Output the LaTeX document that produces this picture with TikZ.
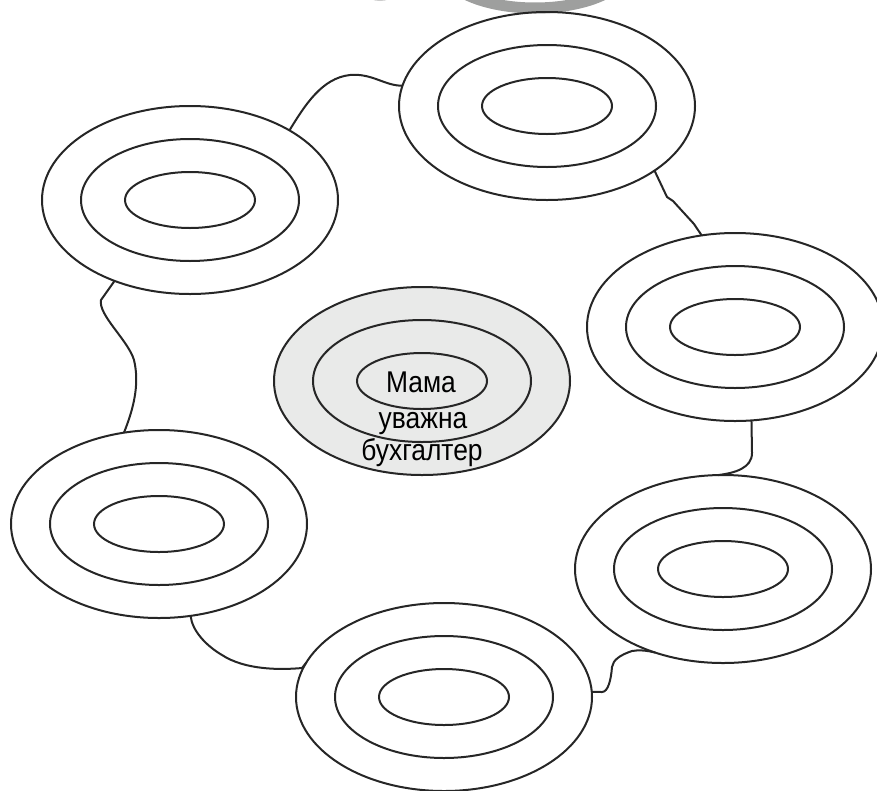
\documentclass[tikz,border=0pt]{standalone}
\usepackage{fontspec}
\usepackage{tikz}
\usetikzlibrary{shapes.geometric}
\newfontfamily\narrowfont[FakeStretch=0.88]{Liberation Sans}
\definecolor{ink}{HTML}{262626}
\definecolor{shade}{HTML}{E9EAE9}
\definecolor{topgray}{HTML}{9E9F9E}
\tikzset{
  ringbase/.style={ellipse, draw=ink, line width=2pt, inner sep=0pt, outer sep=0pt},
  ringout/.style={ringbase, minimum width=296pt, minimum height=188pt},
  ringmid/.style={ringbase, minimum width=218pt, minimum height=122pt},
  ringin/.style={ringbase, minimum width=130pt, minimum height=56pt},
  link/.style={draw=ink, line width=2pt, line join=round},
  word/.style={font=\narrowfont\fontsize{30}{34}\selectfont, anchor=base, inner sep=0pt}
}
\begin{document}
\begin{tikzpicture}[x=1pt,y=-1pt]
\useasboundingbox (0,0) rectangle (877,790);
\clip (0,0) rectangle (877,790);
% cut-off ring above
\draw [topgray, line width=11pt] (535,-32) ellipse (92 and 40);
\draw [black!20, line width=2pt] (380,-22) ellipse (22 and 22);
% centre
\node[ringout, fill=shade] (c) at (422,381) {};
\node[ringmid] (c-m) at (422,381) {};
\node[ringin] (c-i) at (422,381) {};
\node[word] (mama) at (421,392) {Мама};
\node[word] (uvazhna) at (423,428) {уважна};
\node[word] (buh) at (422,460) {бухгалтер};
% outer rings
\foreach \n/\x/\y in {lt/190/200, t/547/106, ra/735/327, rb/723/569, b/444/697, lb/159/524}{
  \node[ringout] (\n) at (\x,\y) {};
  \node[ringmid] (\n-m) at (\x,\y) {};
  \node[ringin] (\n-i) at (\x,\y) {};
}
% links
\draw [link] (lt.35) .. controls (305,105) and (322,78) .. (350,75)
  .. controls (372,73) and (385,86) .. (t.172);
\draw [link] (t.329) -- (667,197) -- (673,201) -- (694,224) -- (ra.110);
\draw [link] (ra.280) -- (752,453) .. controls (752,468) and (735,473) .. (rb.93);
\draw [link] (rb.231) .. controls (645,650) and (638,650) .. (632,651)
  .. controls (620,655) and (613,660) .. (612,667)
  .. controls (611,680) and (608,692) .. (602,692) -- (b.2);
\draw [link] (b.166) -- (302,668) .. controls (280,670) and (245,670) .. (222,655)
  .. controls (205,645) and (192,630) .. (lb.289);
\draw [link] (lb.111) .. controls (133,410) and (140,385) .. (134,360)
  .. controls (128,340) and (98,315) .. (101,300) -- (lt.227);
\end{tikzpicture}
\end{document}
